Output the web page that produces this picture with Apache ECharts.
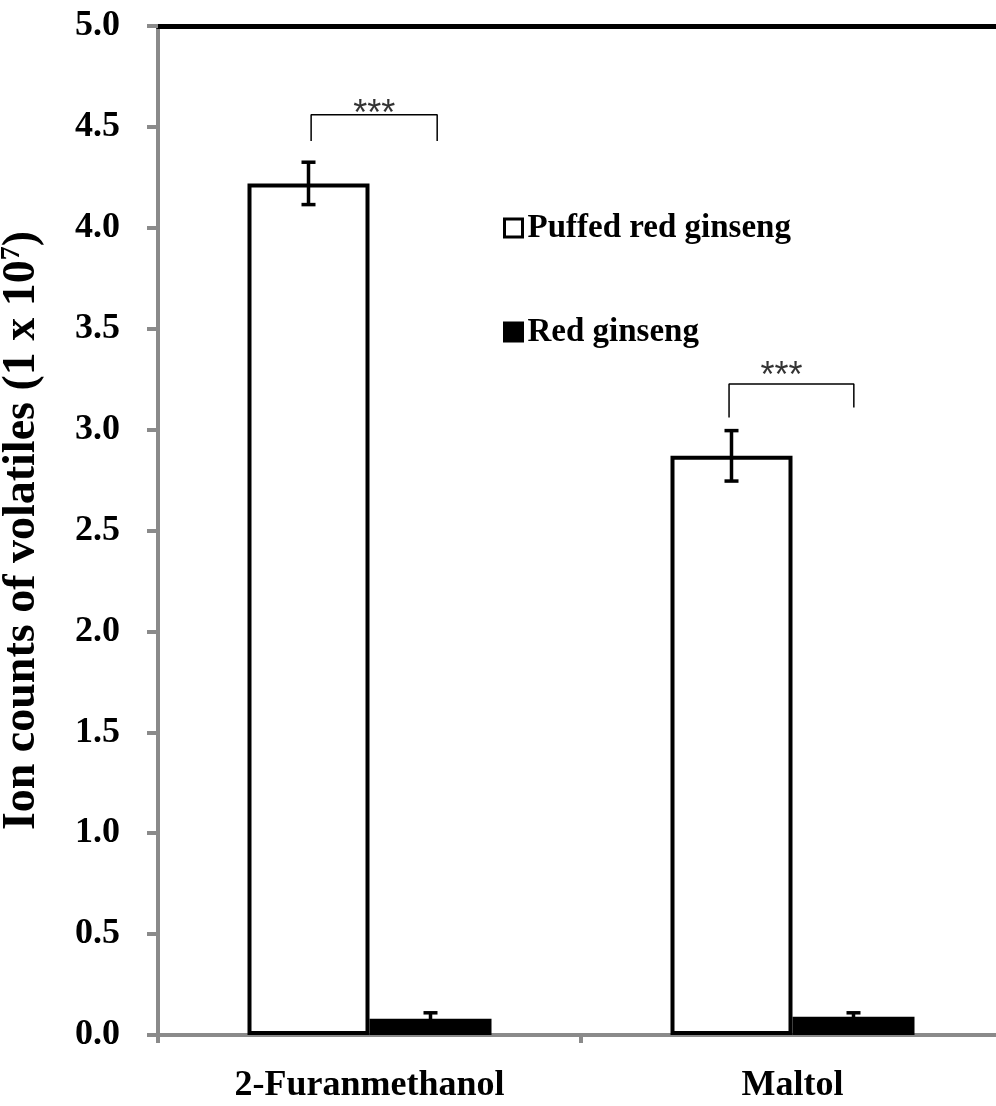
<!DOCTYPE html>
<html>
<head>
<meta charset="utf-8">
<script src="https://cdn.jsdelivr.net/npm/echarts@6/dist/echarts.min.js"></script>
<style>html,body{margin:0;padding:0;background:#fff}#c{width:996px;height:1106px}</style>
</head>
<body>
<div id="c"></div>
<script>
// ---- data ----
const categories = ['2-Furanmethanol', 'Maltol'];
const seriesNames = ['Puffed red ginseng', 'Red ginseng'];
const puffedValues = [4.22, 2.87];
const puffedErrors = [0.105, 0.125];
const redValues = [0.08, 0.09];
const redErrors = [0.03, 0.02];
const yTicks = [0, 0.5, 1, 1.5, 2, 2.5, 3, 3.5, 4, 4.5, 5];
// significance brackets: [xLeft, yLeftBottom], [xLeft, yTop], [xRight, yTop], [xRight, yRightBottom]  (x in category units 0..2)
const bracket1 = [[0.362, 4.43], [0.362, 4.56], [0.66, 4.56], [0.66, 4.43]];
const bracket2 = [[1.350, 3.06], [1.350, 3.226], [1.645, 3.226], [1.645, 3.11]];
const starLabels = [[0.511, 4.56, '***'], [1.474, 3.26, '***']];

const FONT = '"Liberation Serif","Times New Roman",serif';
const AXIS_GRAY = '#8a8a8a';
const BAR_W = 122;

const chart = echarts.init(document.getElementById('c'), null, {renderer: 'canvas'});

function errorSeries(values, errors, sideSign) {
  return {
    type: 'custom',
    xAxisIndex: 0,
    yAxisIndex: 0,
    z: 5,
    silent: true,
    data: values.map((v, i) => [i, v, errors[i]]),
    renderItem: function (params, api) {
      const i = api.value(0), v = api.value(1), e = api.value(2);
      const c = api.coord([i, v]);
      const x = c[0] + sideSign * BAR_W / 2;
      const top = api.coord([i, v + e])[1];
      const bot = api.coord([i, v - e])[1];
      const cap = 7;
      const st = {stroke: '#000', lineWidth: 3.5};
      return {
        type: 'group',
        children: [
          {type: 'line', shape: {x1: x, y1: top, x2: x, y2: bot}, style: st},
          {type: 'line', shape: {x1: x - cap, y1: top, x2: x + cap, y2: top}, style: st},
          {type: 'line', shape: {x1: x - cap, y1: bot, x2: x + cap, y2: bot}, style: st}
        ]
      };
    }
  };
}

const option = {
  backgroundColor: '#fff',
  animation: false,
  textStyle: {fontFamily: FONT},
  grid: {left: 158, right: -8, top: 26, bottom: 71, containLabel: false, outerBoundsMode: 'none'},
  legend: {
    orient: 'vertical',
    left: 503,
    top: 210,
    padding: 0,
    itemWidth: 18,
    itemHeight: 18,
    itemGap: 68,
    itemTextGap: 7,
    icon: 'rect',
    data: seriesNames,
    itemStyle: {borderWidth: 3, borderColor: '#000'},
    textStyle: {fontFamily: FONT, fontWeight: 'bold', fontSize: 33, color: '#000', lineHeight: 36}
  },
  xAxis: [
    {
      type: 'category',
      data: categories,
      position: 'bottom',
      axisLine: {lineStyle: {color: AXIS_GRAY, width: 4}},
      axisTick: {show: true, alignWithLabel: false, length: 8, lineStyle: {color: AXIS_GRAY, width: 4}},
      axisLabel: {fontFamily: FONT, fontWeight: 'bold', fontSize: 36, color: '#000', margin: 33},
      splitLine: {show: false}
    },
    {
      type: 'value',
      min: 0,
      max: 2,
      position: 'top',
      axisLine: {show: true, onZero: false, lineStyle: {color: '#000', width: 5}},
      axisTick: {show: false},
      axisLabel: {show: false},
      splitLine: {show: false}
    }
  ],
  yAxis: {
    type: 'value',
    min: 0,
    max: 5,
    interval: 0.5,
    name: 'Ion counts of volatiles (1 x 10{sup|7})',
    nameLocation: 'middle',
    nameGap: 112,
    nameRotate: 90,
    nameTextStyle: {
      fontFamily: FONT, fontWeight: 'bold', fontSize: 46, color: '#000',
      rich: {sup: {fontFamily: FONT, fontWeight: 'bold', fontSize: 28, color: '#000', padding: [0, 0, 20, 0]}}
    },
    axisLine: {show: true, lineStyle: {color: AXIS_GRAY, width: 4}},
    axisTick: {show: true, length: 11, lineStyle: {color: AXIS_GRAY, width: 4}},
    axisLabel: {
      fontFamily: FONT, fontWeight: 'bold', fontSize: 36, color: '#000', margin: 38,
      formatter: v => yTicks.indexOf(v) >= 0 ? v.toFixed(1) : ''
    },
    splitLine: {show: false}
  },
  series: [
    {
      name: seriesNames[0],
      type: 'bar',
      data: puffedValues,
      barWidth: BAR_W,
      barGap: '0%',
      itemStyle: {color: '#fff', borderColor: '#000', borderWidth: 4}
    },
    {
      name: seriesNames[1],
      type: 'bar',
      data: redValues,
      barWidth: BAR_W,
      barGap: '0%',
      itemStyle: {color: '#000', borderColor: '#000', borderWidth: 2}
    },
    errorSeries(puffedValues, puffedErrors, -1),
    errorSeries(redValues, redErrors, 1),
    {
      type: 'line', xAxisIndex: 1, yAxisIndex: 0, data: bracket1, symbol: 'none', silent: true,
      lineStyle: {color: '#000', width: 1.5}, z: 6
    },
    {
      type: 'line', xAxisIndex: 1, yAxisIndex: 0, data: bracket2, symbol: 'none', silent: true,
      lineStyle: {color: '#000', width: 1.5}, z: 6
    },
    {
      type: 'scatter', xAxisIndex: 1, yAxisIndex: 0, symbolSize: 0, silent: true,
      data: starLabels.map(s => [s[0], s[1], s[2]]),
      label: {
        show: true, position: 'inside', formatter: p => p.value[2],
        fontFamily: '"Liberation Sans",Arial,sans-serif', fontSize: 36, color: '#000'
      }
    }
  ]
};
chart.setOption(option);
</script>
</body>
</html>
